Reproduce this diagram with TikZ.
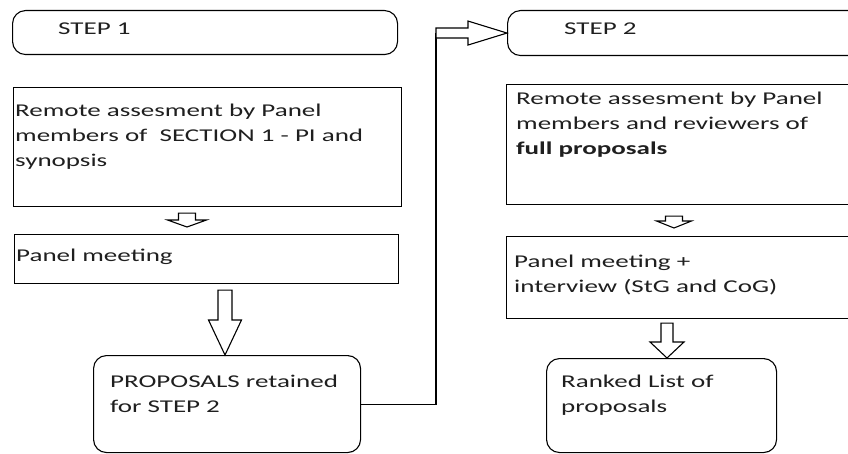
\documentclass[tikz,border=0pt]{standalone}
\usepackage{fontspec}
\setmainfont{Carlito}[FakeStretch=1.5]
\usetikzlibrary{calc}
\tikzset{
  plainbox/.style={draw, line width=1.1pt, inner sep=0pt, anchor=north west},
  roundbox/.style={draw, line width=1.1pt, rounded corners=13pt, inner sep=0pt, anchor=north west},
  lbl/.style={anchor=north west, inner sep=0pt, align=left, font=\fontsize{18}{25}\selectfont, text=black!88},
  blk/.style={draw, line width=1.1pt, fill=white, line join=miter},
  link/.style={draw, line width=1.1pt},
}
% #1 top point, #2 tip point, #3 shaft half width, #4 head half width, #5 head length
\newcommand\blockdown[5]{%
  \draw[blk] let \p1=#1, \p2=#2 in
    (\x1-#3,\y1) -- (\x1+#3,\y1) -- (\x1+#3,\y2+#5) -- (\x1+#4,\y2+#5) -- (\x1,\y2)
    -- (\x1-#4,\y2+#5) -- (\x1-#3,\y2+#5) -- cycle;}
\newcommand\blockright[5]{%
  \draw[blk] let \p1=#1, \p2=#2 in
    (\x1,\y2+#3) -- (\x2-#5,\y2+#3) -- (\x2-#5,\y2+#4) -- (\x2,\y2) -- (\x2-#5,\y2-#4)
    -- (\x2-#5,\y2-#3) -- (\x1,\y2-#3) -- cycle;}
\begin{document}
\begin{tikzpicture}[x=1pt,y=-1pt]
\useasboundingbox (0,0) rectangle (848,454);
\fill[white] (0,0) rectangle (848,454);
\clip (0,0) rectangle (848,454);

% STEP 1 column
\node[roundbox, minimum width=385pt, minimum height=44pt] (step1) at (12,10) {};
\node[lbl] (step1t) at (58,16.5) {\strut STEP 1};
\node[plainbox, minimum width=388pt, minimum height=119pt] (box1) at (13,87) {};
\node[lbl] (box1t) at (15,98.5) {\strut Remote assesment by Panel\\members of \ SECTION 1 - PI and\\synopsis};
\node[plainbox, minimum width=384pt, minimum height=49pt] (pm1) at (14,234) {};
\node[lbl] (pm1t) at (16,243.5) {\strut Panel meeting};
\node[roundbox, minimum width=267pt, minimum height=97pt] (prop) at (93,355) {};
\node[lbl] (propt) at (110,369.5) {\strut PROPOSALS retained\\for STEP 2};

% STEP 2 column
\node[roundbox, minimum width=363pt, minimum height=45pt] (step2) at (507,10) {};
\node[lbl] (step2t) at (564,16.5) {\strut STEP 2};
\node[plainbox, minimum width=360pt, minimum height=120pt] (box2) at (506,84) {};
\node[lbl] (box2t) at (516,86.5) {\strut Remote assesment by Panel\\members and reviewers of\\\textbf{full proposals}};
\node[plainbox, minimum width=360pt, minimum height=82pt] (pm2) at (506,236) {};
\node[lbl] (pm2t) at (514,249.5) {\strut Panel meeting +\\interview (StG and CoG)};
\node[roundbox, minimum width=230pt, minimum height=94pt] (ranked) at (546,358) {};
\node[lbl] (rankedt) at (561,369.5) {\strut Ranked List of\\proposals};

% block arrows
\coordinate (a1) at ($(box1.south west)+(174,6)$);
\blockdown{(a1)}{($(pm1.north west)+(174,-7)$)}{8.5pt}{19.5pt}{7pt}
\coordinate (a2) at ($(pm1.south west)+(211,6)$);
\blockdown{(a2)}{(prop.north -| a2)}{7pt}{16.5pt}{35pt}
\coordinate (a3) at ($(box2.south west)+(168,11)$);
\blockdown{(a3)}{($(pm2.north west)+(168,-8)$)}{8.5pt}{17.5pt}{7pt}
\coordinate (a4) at ($(pm2.south west)+(161,4)$);
\blockdown{(a4)}{(ranked.north -| a4)}{6pt}{17pt}{16pt}

% connector from STEP 1 result to STEP 2
\coordinate (turn) at (436,0);
\draw[link] (prop.east) -- (prop.east -| turn) -- (turn |- step2.west);
\blockright{(turn |- step2.west)}{(step2.west)}{5pt}{12pt}{39pt}
\end{tikzpicture}
\end{document}
